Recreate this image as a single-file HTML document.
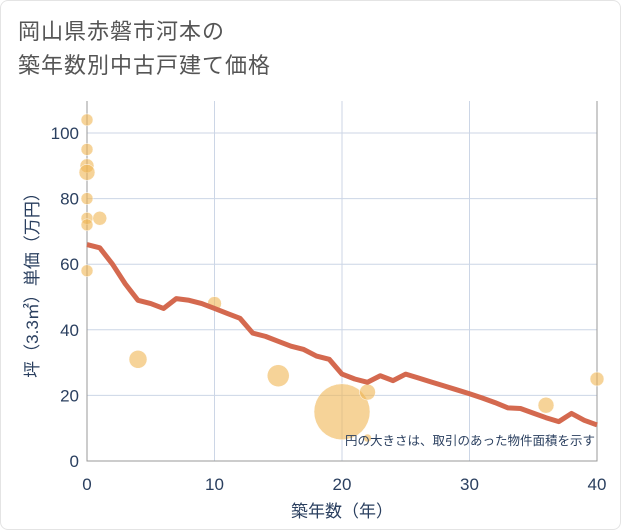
<!DOCTYPE html>
<html><head><meta charset="utf-8"><style>
body{margin:0;background:#fff;}
#wrap{position:relative;width:621px;height:530px;background:#fff;font-family:"Liberation Sans","Noto Sans CJK JP",sans-serif;box-sizing:border-box;border:1px solid #e4e4e4;border-radius:8px;overflow:hidden;}
#title{position:absolute;left:17px;top:14px;font-size:22px;line-height:34px;color:#555;letter-spacing:1px;}
</style></head><body>
<div id="wrap">
<div id="title">岡山県赤磐市河本の<br>築年数別中古戸建て価格</div>
<svg id="chart" width="621" height="530" style="position:absolute;left:0;top:0"></svg>
</div>
<script>
const xTicks=[0,10,20,30,40];
const yTicks=[0,20,40,60,80,100];
const lineYears=[0,1,2,3,4,5,6,7,8,9,10,11,12,13,14,15,16,17,18,19,20,21,22,23,24,25,26,27,28,29,30,31,32,33,34,35,36,37,38,39,40];
const lineValues=[66,65,60,54,49,48,46.5,49.5,49,48,46.5,45,43.5,39,38,36.5,35,34,32,31,26.5,25,24,26,24.5,26.5,25.3,24.1,22.9,21.7,20.5,19.2,17.8,16.2,16,14.6,13.2,12,14.5,12.4,11];
const bubbleYears=[0,0,0,0,0,0,0,0,1,4,10,15,20,22,22,36,40];
const bubbleValues=[104,95,90,88,80,74,72,58,74,31,48,26,15,21,7,17,25];
const bubbleSizes=[6,6,7,8,6,6,6,6,7,9,7,11,28,8,4,8,7];
const NS="http://www.w3.org/2000/svg";
const svg=document.getElementById('chart');
const L=86,R=596,T=100,B=460;
const xs=v=>L+(v-0)/40*(R-L);
const ys=v=>B-v*3.28;
function mk(t,a){const e=document.createElementNS(NS,t);for(const k in a)e.setAttribute(k,a[k]);svg.appendChild(e);return e;}
for(const t of xTicks){
 const g=mk('line',{x1:xs(t),x2:xs(t),y1:T,y2:B,stroke:'#ccd6e6','stroke-width':1});
 
 
 const tx=mk('text',{x:xs(t),y:489,'text-anchor':'middle','font-size':17,fill:'#2a3f5f'});
 tx.textContent=t;
 
 
}
for(const t of yTicks){
 const g=mk('line',{x1:L,x2:R,y1:ys(t),y2:ys(t),stroke:'#ccd6e6','stroke-width':1});
 
 
 const tx=mk('text',{x:78,y:ys(t)+6,'text-anchor':'end','font-size':17,fill:'#2a3f5f'});
 tx.textContent=t;
 
 
}
const ax=mk('path',{d:`M${L},${T} V${B} H${R} V${T}`,fill:'none',stroke:'#999','stroke-width':1});


for(let i=0;i<bubbleYears.length;i++){
 const c=mk('circle',{cx:xs(bubbleYears[i]),cy:ys(bubbleValues[i]),r:bubbleSizes[i],fill:'#f0b554','fill-opacity':0.6,stroke:'#fff','stroke-width':0.5});
 
 
}
const pl=mk('polyline',{points:lineYears.map((y,i)=>xs(y)+','+ys(lineValues[i])).join(' '),fill:'none',stroke:'#d4694f','stroke-width':5,'stroke-linejoin':'round'});


const note=mk('text',{x:594,y:444,'text-anchor':'end','font-size':12.5,fill:'#2a3f5f'});
note.textContent='円の大きさは、取引のあった物件面積を示す';


const xt=mk('text',{x:(L+R)/2,y:516,'text-anchor':'middle','font-size':17,fill:'#2a3f5f'});
xt.textContent='築年数（年）';


const yt=mk('text',{x:0,y:0,'text-anchor':'middle','font-size':17,fill:'#2a3f5f',transform:`translate(37,${(T+B)/2}) rotate(-90)`});
yt.textContent='坪（3.3㎡）単価（万円）';


</script>
</body></html>
